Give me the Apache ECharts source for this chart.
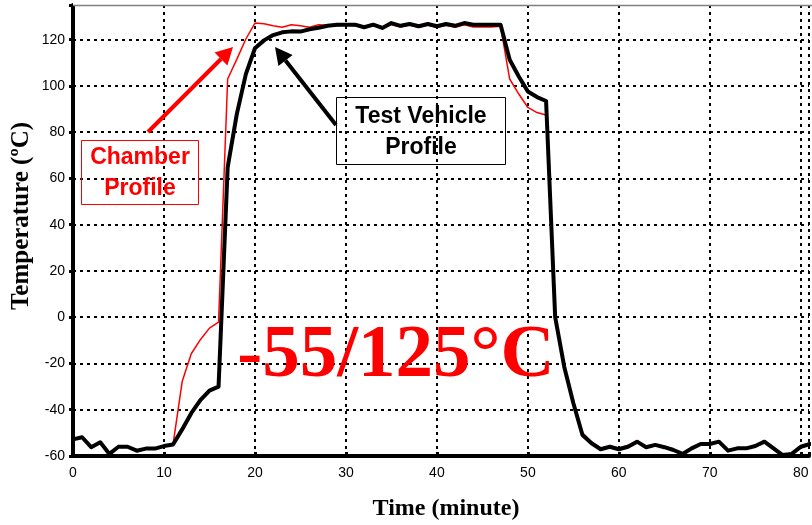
<!DOCTYPE html>
<html><head><meta charset="utf-8">
<script src="https://cdn.jsdelivr.net/npm/echarts@6/dist/echarts.min.js"></script>
<style>html,body{margin:0;padding:0;background:#fff}#c{width:812px;height:525px}</style>
</head><body><div id="c"></div>
<script>
// Time in minutes
var minutes = [0,1,2,3,4,5,6,7,8,9,10,11,12,13,14,15,16,17,18,19,20,21,22,23,24,25,26,27,28,29,30,31,32,33,34,35,36,37,38,39,40,41,42,43,44,45,46,47,48,49,50,51,52,53,54,55,56,57,58,59,60,61,62,63,64,65,66,67,68,69,70,71,72,73,74,75,76,77,78,79,80,81];
// Test vehicle profile (°C)
var testVehicle = [-52.8,-51.9,-56.2,-54.1,-59.1,-56,-56,-57.7,-56.8,-56.8,-55.7,-55,-48.5,-41.5,-35.8,-31.7,-30,64.8,87.7,105.1,116.3,119.7,122,123.2,123.6,123.5,124.5,125.2,126,126.5,126.5,126.5,125.4,126.5,125.1,127.2,126,126.8,125.8,126.8,125.8,126.8,126,127.2,126.5,126.5,126.5,126.5,111.3,104.1,97.6,95.2,93.5,0,-21.5,-37.2,-50.9,-54.5,-57.1,-56,-57.1,-56,-53.8,-56.2,-55.2,-56.2,-57.4,-59.1,-56.7,-54.8,-54.8,-53.8,-57.7,-56.7,-56.7,-55.7,-53.8,-56.7,-59.6,-59.1,-56,-54.8];
// Chamber profile (°C)
var chamber = [-52.8,-51.9,-56.2,-54.1,-59.1,-56,-56,-57.7,-56.8,-56.8,-55.7,-55,-27.8,-15.8,-9.7,-4.7,-2.1,103,111.5,120.3,127.2,126.9,126,125.4,126.5,126,125.4,126.5,126.2,126,126.3,126,125.2,126,125,126.5,125.5,126.3,125.4,126.3,125.4,126.2,125.4,126.5,125.5,125.5,125.5,125.8,103,96.5,90.7,88.5,87.4,-1,-22,-37,-50,-54,-56.5,-56,-56.5,-55.5,-53.5,-56,-55,-55.8,-57,-59,-56.5,-54.6,-54.6,-53.6,-57.5,-56.5,-56.5,-55.5,-53.6,-56.5,-59.4,-59,-56,-54.6];
var xTicks = [0,10,20,30,40,50,60,70,80];
var yTicks = [-60,-40,-20,0,20,40,60,80,100,120];

function pairs(xs, ys){ return xs.map(function(x,i){ return [x, ys[i]]; }); }

var chart = echarts.init(document.getElementById('c'), null, {renderer:'canvas'});
var tickFont = '"Liberation Sans Narrow","Liberation Sans",Arial,sans-serif';
var dotted = {show:true, lineStyle:{color:'#000', width:2, type:[3,4]}};
chart.setOption({
  animation:false,
  backgroundColor:'#fff',
  grid:{left:73, top:5, right:0, height:451},
  xAxis:{type:'value', min:0, max:80.9, interval:10,
    axisLine:{show:true, onZero:false, lineStyle:{color:'#000', width:4}},
    axisTick:{show:true, inside:true, length:4, lineStyle:{color:'#000', width:3}},
    axisLabel:{color:'#000', fontFamily:tickFont, fontSize:14, margin:10,
      formatter:function(v){ return xTicks.indexOf(v)>=0 ? String(v) : ''; }},
    splitLine:dotted},
  yAxis:{type:'value', min:-60, max:135, interval:20,
    axisLine:{show:true, onZero:false, lineStyle:{color:'#000', width:4}},
    axisTick:{show:true, inside:false, length:4, lineStyle:{color:'#000', width:3}},
    axisLabel:{color:'#000', fontFamily:tickFont, fontSize:14, margin:8,
      formatter:function(v){ return yTicks.indexOf(v)>=0 ? String(v) : ''; }},
    splitLine:dotted},
  series:[
    {name:'Chamber Profile', type:'line', data:pairs(minutes, chamber), showSymbol:false, z:3,
      lineStyle:{color:'#ff0000', width:1.5}},
    {name:'Test Vehicle Profile', type:'line', data:pairs(minutes, testVehicle), showSymbol:false, z:4,
      lineStyle:{color:'#000', width:4, join:'round', cap:'round'}}
  ],
  graphic:[
    {type:'rect', shape:{x:73, y:0, width:739, height:6}, style:{fill:'#fff'}, z:9},
    {type:'line', shape:{x1:73, y1:5.5, x2:812, y2:5.5}, style:{stroke:'#808080', lineWidth:1.5}, z:10},
    {type:'text', x:446, y:509, style:{text:'Time (minute)', font:'bold 24px "Liberation Serif","Times New Roman",serif', fill:'#000', textAlign:'center', textVerticalAlign:'middle'}},
    {type:'text', x:22, y:216, rotation:Math.PI/2, style:{text:'Temperature (\u00baC)', font:'bold 25px "Liberation Serif","Times New Roman",serif', fill:'#000', textAlign:'center', textVerticalAlign:'middle'}},
    {type:'text', x:396, y:319, z:20, style:{text:'-55/125\u00b0C', font:'bold 75px "Liberation Serif","Times New Roman",serif', fill:'#ff0000', textAlign:'center', textVerticalAlign:'top'}},
    {type:'rect', shape:{x:81.5, y:140.5, width:117, height:64}, style:{fill:'none', stroke:'#ff0000', lineWidth:1}, z:20},
    {type:'text', x:140, y:173, z:21, style:{text:'Chamber\nProfile', font:'bold 23px "Liberation Sans",Arial,sans-serif', lineHeight:31, fill:'#ff0000', textAlign:'center', textVerticalAlign:'middle'}},
    {type:'rect', shape:{x:336.5, y:97.5, width:169, height:67}, style:{fill:'none', stroke:'#000', lineWidth:1}, z:20},
    {type:'text', x:421, y:132, z:21, style:{text:'Test Vehicle\nProfile', font:'bold 23px "Liberation Sans",Arial,sans-serif', lineHeight:31, fill:'#000', textAlign:'center', textVerticalAlign:'middle'}},
    {type:'line', shape:{x1:148, y1:132, x2:221, y2:59}, style:{stroke:'#ff0000', lineWidth:4}, z:20},
    {type:'polygon', shape:{points:[[233,47],[227.4,65.4],[214.6,52.6]]}, style:{fill:'#ff0000'}, z:20},
    {type:'line', shape:{x1:336, y1:125, x2:285.5, y2:60.4}, style:{stroke:'#000', lineWidth:4}, z:20},
    {type:'polygon', shape:{points:[[275,47],[292.6,54.9],[278.4,65.9]]}, style:{fill:'#000'}, z:20}
  ]
});
</script></body></html>
